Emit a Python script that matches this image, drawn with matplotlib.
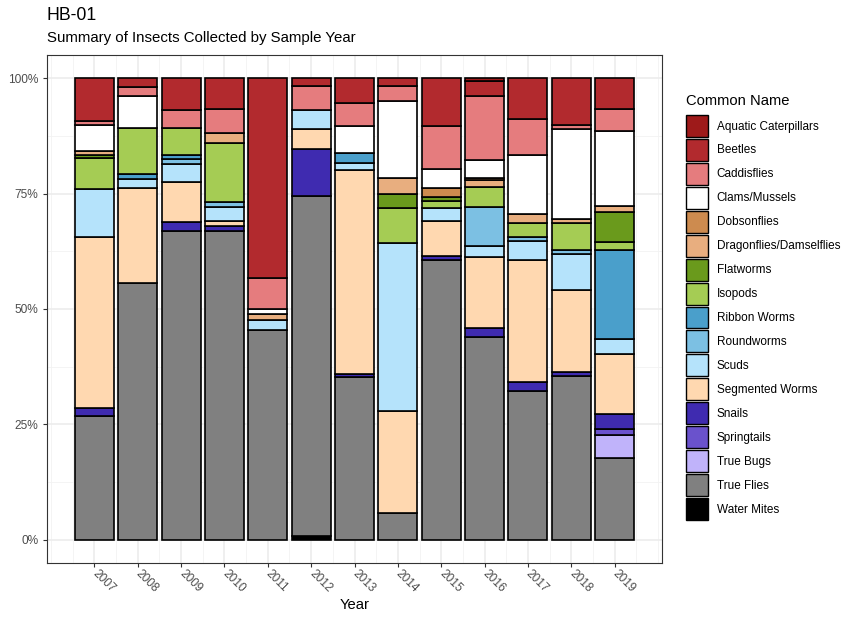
import numpy as np
import matplotlib
matplotlib.use("Agg")
import matplotlib.pyplot as plt
from matplotlib.patches import Patch
from matplotlib.ticker import FuncFormatter, MultipleLocator

plt.rcParams['font.family'] = ['Liberation Sans', 'DejaVu Sans']

# years on the x axis
years = np.arange(2007, 2020)

# percentage of each group per year
aquatic_caterpillars = [0, 0, 0, 0, 0, 0, 0, 0, 0, 0.72, 0, 0, 0]
beetles = [9.35, 1.9, 7.0, 6.6, 43.3, 1.7, 5.3, 1.7, 10.4, 3.18, 8.9, 10.2, 6.6]
caddisflies = [0.85, 2.0, 3.8, 5.25, 6.6, 5.3, 5.0, 3.3, 9.4, 13.88, 7.8, 0.9, 4.8]
clams_mussels = [5.63, 7.0, 0, 0, 1.2, 0, 6.0, 16.6, 4.1, 3.82, 12.8, 19.4, 16.2]
dobsonflies = [0, 0, 0, 0, 0, 0, 0, 0, 1.8, 0.5, 0, 0, 0]
dragonflies = [0.73, 0, 0, 2.1, 1.2, 0, 0, 3.4, 0, 1.44, 1.9, 0.9, 1.45]
flatworms = [0.72, 0, 0, 0, 0, 0, 0, 3.2, 0.9, 0, 0, 0, 6.5]
isopods = [6.84, 9.85, 5.76, 12.8, 0, 0, 0, 7.6, 1.6, 4.32, 3.0, 5.9, 1.6]
ribbon_worms = [0, 1.1, 1.0, 0, 0, 0, 2.15, 0, 0, 0, 0, 0, 19.3]
roundworms = [0, 0, 1.0, 1.1, 0, 0, 0, 0, 0, 8.44, 0.9, 0.8, 0]
scuds = [10.22, 2.0, 3.9, 3.1, 2.3, 4.1, 1.44, 36.2, 2.7, 2.5, 4.0, 7.7, 3.2]
segmented_worms = [37.08, 20.6, 8.8, 1.0, 0, 4.2, 44.1, 22.2, 7.6, 15.34, 26.4, 17.9, 13.0]
snails = [1.8, 0, 1.85, 1.1, 0, 10.2, 0.7, 0, 1.0, 1.96, 1.9, 0.9, 3.2]
springtails = [0, 0, 0, 0, 0, 0, 0, 0, 0, 0, 0, 0, 1.5]
true_bugs = [0, 0, 0, 0, 0, 0, 0, 0, 0, 0, 0, 0, 4.8]
true_flies = [26.78, 55.5, 66.9, 66.9, 45.4, 73.6, 35.2, 5.8, 60.6, 43.9, 32.3, 35.4, 17.8]
water_mites = [0, 0, 0, 0, 0, 0.86, 0, 0, 0, 0, 0, 0, 0]

names = ['Aquatic Caterpillars', 'Beetles', 'Caddisflies', 'Clams/Mussels',
         'Dobsonflies', 'Dragonflies/Damselflies', 'Flatworms', 'Isopods',
         'Ribbon Worms', 'Roundworms', 'Scuds', 'Segmented Worms', 'Snails',
         'Springtails', 'True Bugs', 'True Flies', 'Water Mites']
series = [aquatic_caterpillars, beetles, caddisflies, clams_mussels,
          dobsonflies, dragonflies, flatworms, isopods, ribbon_worms,
          roundworms, scuds, segmented_worms, snails, springtails,
          true_bugs, true_flies, water_mites]
colors = ['#9E1A1A', '#B22A2E', '#E57C7E', '#FFFFFF', '#CD8B4F', '#E8AE7F',
          '#6A9A1C', '#A5CC54', '#4A9FCB', '#7CC0E3', '#B5E3FB', '#FFD8B0',
          '#3F2BB0', '#6A52CC', '#C0B3FA', '#808080', '#000000']

vals = np.array(series, dtype=float)
vals = vals / vals.sum(axis=0)   # fill to 100%

fig = plt.figure(figsize=(8.61, 6.22), dpi=100)
ax = fig.add_axes([47/861, 1-563/622, (662-47)/861, (563-55)/622])

# stack from the bottom (last name) up to the top (first name)
bottom = np.zeros(len(years))
for i in range(len(names) - 1, -1, -1):
    v = vals[i]
    m = v > 0
    ax.bar(years[m], v[m], bottom=bottom[m], width=0.9, color=colors[i],
           edgecolor='black', linewidth=1.2, zorder=3)
    bottom = bottom + v

ax.set_xlim(2006.55 - 0.645, 2019.45 + 0.645)
ax.set_ylim(-0.05, 1.05)
ax.set_xticks(years)
ax.xaxis.set_minor_locator(MultipleLocator(0.5))
ax.set_yticks([0, 0.25, 0.5, 0.75, 1.0])
ax.yaxis.set_minor_locator(MultipleLocator(0.125))
ax.yaxis.set_major_formatter(FuncFormatter(lambda y, p: '%d%%' % round(y * 100)))
ax.set_xticklabels([str(y) for y in years], rotation=-45, ha='left',
                   va='center', rotation_mode='anchor')

ax.grid(which='major', color='#EBEBEB', linewidth=1.1, zorder=0)
ax.grid(which='minor', color='#F2F2F2', linewidth=0.6, zorder=0)
ax.set_axisbelow(True)
for s in ax.spines.values():
    s.set_color('#333333')
    s.set_linewidth(0.8)
ax.tick_params(which='major', length=2.7, color='#333333', labelcolor='#4D4D4D',
               labelsize=8.6, width=0.8)
ax.tick_params(which='minor', length=0)
ax.tick_params(axis='x', pad=4)

fig.text(354.5/861, 1-605/622, 'Year', fontsize=10.6, va='center', ha='center')
fig.text(47/861, 1-15/622, 'HB-01', fontsize=12.7, va='center', ha='left')
fig.text(47/861, 1-38/622, 'Summary of Insects Collected by Sample Year',
         fontsize=10.8, va='center', ha='left')

# legend title drawn on its own so the gap to the keys matches
fig.text(686/861, 1-101/622, 'Common Name', fontsize=10.6, va='center', ha='left')
handles = [Patch(facecolor=c, edgecolor='black', linewidth=1.0) for c in colors]
leg = fig.legend(handles, names, loc='upper left',
                 bbox_to_anchor=(686/861, 1-115/622), frameon=False,
                 fontsize=8.45, handlelength=1.87, handleheight=2.5,
                 labelspacing=0.17, handletextpad=0.75, borderpad=0,
                 borderaxespad=0)

fig.savefig('out.png', dpi=100)
